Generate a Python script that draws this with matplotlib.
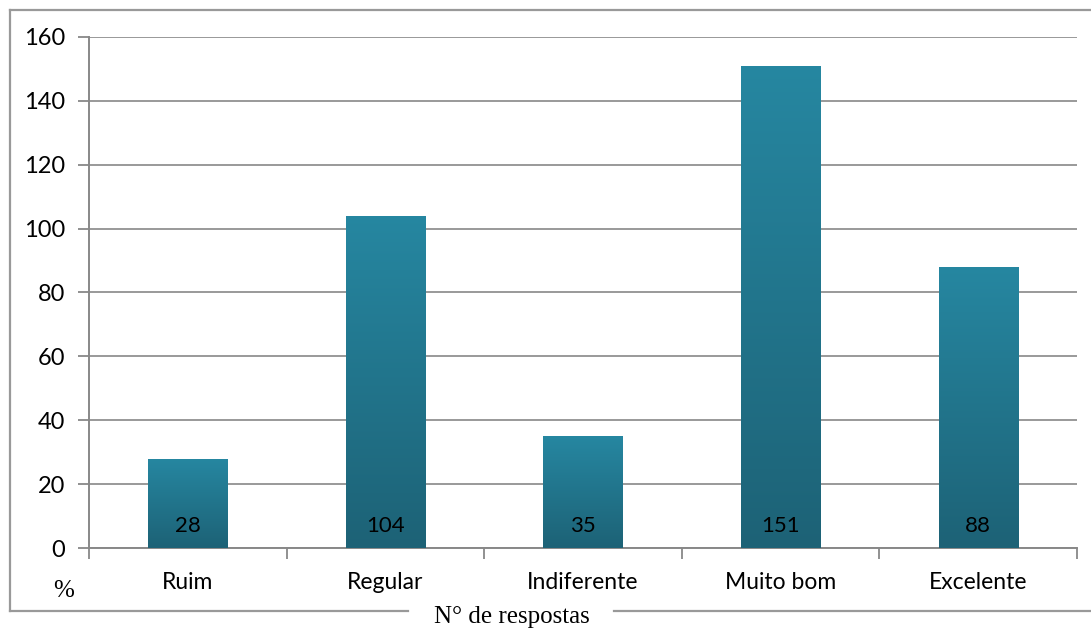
import numpy as np
import matplotlib.pyplot as plt
from matplotlib.lines import Line2D

categorias = ["Ruim", "Regular", "Indiferente", "Muito bom", "Excelente"]
respostas = [28, 104, 35, 151, 88]
y_ticks = [0, 20, 40, 60, 80, 100, 120, 140, 160]

plt.rcParams['font.family'] = ['Lato', 'DejaVu Sans']

fig = plt.figure(figsize=(10.91, 6.31), dpi=100)
ax = fig.add_axes([0.0816, 0.1315, 0.9054, 0.81])

x = np.arange(len(categorias))
largura = 0.40

# gradiente vertical: mais claro no topo, mais escuro na base
grad = np.linspace(0, 1, 256).reshape(-1, 1)
cmap = plt.matplotlib.colors.LinearSegmentedColormap.from_list(
    "teal", ["#1d6276", "#2687a1"])

bars = ax.bar(x, respostas, width=largura, color="none", edgecolor="none", zorder=3)
for b in bars:
    x0, w, h = b.get_x(), b.get_width(), b.get_height()
    im = ax.imshow(grad, extent=[x0, x0 + w, 0, h], origin="lower",
                   aspect="auto", cmap=cmap, zorder=3)
    im.set_clip_path(b)

for xi, v in zip(x, respostas):
    ax.text(xi, 7, str(v), ha="center", va="center", fontsize=16,
            color="black", zorder=4)

ax.set_xlim(-0.5, len(categorias) - 0.5)
ax.set_ylim(0, 160)
ax.set_yticks(y_ticks)
ax.set_yticklabels([str(t) for t in y_ticks], fontsize=17)
ax.set_xticks(x)
ax.set_xticklabels(categorias, fontsize=16.5)
ax.set_xticks(np.arange(len(categorias) + 1) - 0.5, minor=True)

ax.tick_params(axis="x", which="major", length=0, pad=17)
ax.tick_params(axis="x", which="minor", length=8, width=1.3, color="#888888")
ax.tick_params(axis="y", length=8, width=1.3, color="#888888", pad=9)

ax.yaxis.grid(True, color="#999999", linewidth=1.4, zorder=0)
ax.set_axisbelow(True)
for s in ["top", "right"]:
    ax.spines[s].set_visible(False)
for s in ["left", "bottom"]:
    ax.spines[s].set_color("#888888")
    ax.spines[s].set_linewidth(1.4)

# moldura externa do gráfico
W, H = 1091, 631
borda = dict(color="#999999", linewidth=1.6, transform=fig.transFigure)
fig.add_artist(Line2D([10 / W, 10 / W], [1 - 611 / H, 1 - 10 / H], **borda))
fig.add_artist(Line2D([10 / W, 1.01], [1 - 10 / H, 1 - 10 / H], **borda))
fig.add_artist(Line2D([10 / W, 408 / W], [1 - 611 / H, 1 - 611 / H], **borda))
fig.add_artist(Line2D([614 / W, 1.01], [1 - 611 / H, 1 - 611 / H], **borda))

fig.text(512 / W, 1 - 617 / H, "N° de respostas", ha="center", va="center",
         fontsize=18, family="Liberation Serif")
fig.text(64 / W, 1 - 591 / H, "%", ha="center", va="center",
         fontsize=18, family="Liberation Serif")

fig.savefig("out.png", dpi=100)
